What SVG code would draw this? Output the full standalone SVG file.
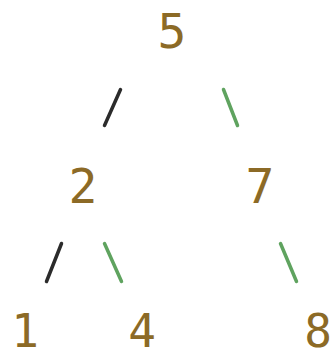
<svg xmlns="http://www.w3.org/2000/svg" width="331" height="358" viewBox="0 0 331 358">
<style>
.n{font-family:"DejaVu Sans Mono","Liberation Mono",monospace;font-size:48px;fill:#8C6A26;text-anchor:middle}
.b{font-size:46px}
.e{stroke-width:3.5;stroke-linecap:round;fill:none}
.l{stroke:#2b2b2b}
.r{stroke:#5FA35F}
</style>
<rect width="331" height="358" fill="#ffffff"/>
<g id="connectors">
<line class="e l" x1="120.5" y1="89.5" x2="104.5" y2="125.5"/>
<line class="e r" x1="223.5" y1="89.5" x2="237.5" y2="125.5"/>
<line class="e l" x1="61.5" y1="243.5" x2="46.5" y2="281.5"/>
<line class="e r" x1="104.5" y1="243.5" x2="121.5" y2="281.5"/>
<line class="e r" x1="280.5" y1="243.5" x2="296.5" y2="281.5"/>
</g>
<g id="n5"><text class="n" x="172" y="48">5</text></g>
<g id="n2"><text class="n" x="83" y="203">2</text></g>
<g id="n7"><text class="n" x="260" y="203">7</text></g>
<g id="n1"><text class="n b" x="25" y="347">1</text></g>
<g id="n4"><text class="n b" x="142" y="347">4</text></g>
<g id="n8"><text class="n b" x="318" y="347">8</text></g>
</svg>
